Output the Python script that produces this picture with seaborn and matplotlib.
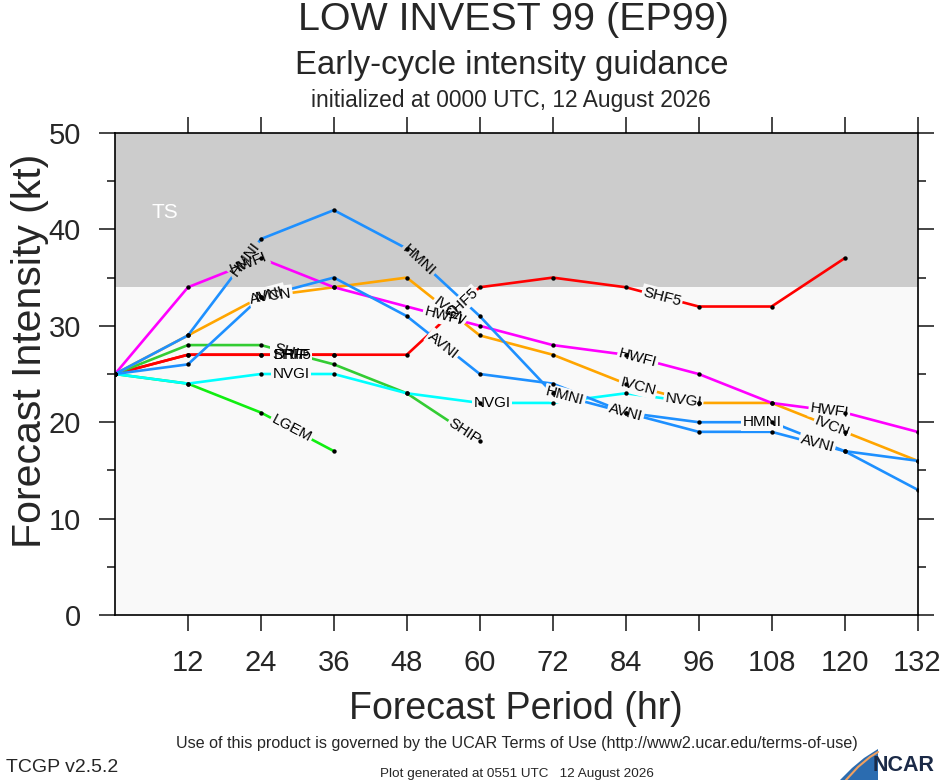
import numpy as np
import pandas as pd
import matplotlib
matplotlib.use('Agg')
import matplotlib.pyplot as plt
import seaborn as sns
from matplotlib.ticker import MultipleLocator
from matplotlib.patches import Polygon

# forecast hours and model intensities (kt)
HOURS = [0, 12, 24, 36, 48, 60, 72, 84, 96, 108, 120, 132]

DRIF = [25, 27, 27, 27]
SHF5 = [25, 27, 27, 27, 27, 34, 35, 34, 32, 32, 37]
SHIP = [25, 28, 28, 26, 23, 18]
LGEM = [25, 24, 21, 17]
NVGI = [25, 24, 25, 25, 23, 22, 22, 23, 22]
IVCN = [25, 29, 33, 34, 35, 29, 27, 24, 22, 22, 19, 16]
HWFI = [25, 34, 37, 34, 32, 30, 28, 27, 25, 22, 21, 19]
AVNI = [25, 26, 33, 35, 31, 25, 24, 21, 19, 19, 17, 13]
HMNI = [25, 29, 39, 42, 38, 31, 23, 21, 20, 20, 17, 16]

MODELS = {'DRIF': DRIF, 'SHF5': SHF5, 'SHIP': SHIP, 'LGEM': LGEM, 'NVGI': NVGI,
          'IVCN': IVCN, 'HWFI': HWFI, 'AVNI': AVNI, 'HMNI': HMNI}

COLORS = {'DRIF': '#ff0000', 'SHF5': '#ff0000', 'SHIP': '#33cc33', 'LGEM': '#11ee11',
          'NVGI': '#00ffff', 'IVCN': '#ffa500', 'HWFI': '#ff00ff',
          'AVNI': '#1e90ff', 'HMNI': '#1e90ff'}

# where along each line the model name is written (hr)
LABEL_AT = {'DRIF': [29], 'SHF5': [29, 57, 90], 'SHIP': [29, 57.5], 'LGEM': [29],
            'NVGI': [29, 62, 93.5], 'IVCN': [26, 55, 86, 118],
            'HWFI': [22, 54, 86, 117.5], 'AVNI': [25, 54, 84, 115.5],
            'HMNI': [21.5, 50, 74, 106.5]}

TS_LOW = 34

rows = []
for name, vals in MODELS.items():
    for h, v in zip(HOURS, vals):
        rows.append({'model': name, 'hour': h, 'kt': v})
df = pd.DataFrame(rows)

sns.set_style("white")
plt.rcParams['font.family'] = ['Liberation Sans', 'DejaVu Sans']

W, H = 940, 780
fig = plt.figure(figsize=(9.4, 7.8), dpi=100)
ax = fig.add_axes([115 / W, 165 / H, 802.5 / W, 482 / H])
ax.set_xlim(0, 132)
ax.set_ylim(0, 50)
ax.set_facecolor('#f9f9f9')
ax.axhspan(TS_LOW, 50, color='#cccccc', lw=0, zorder=0)
ax.text(8.2, 41.8, 'TS', color='white', fontsize=15, ha='center', va='center')

sns.lineplot(data=df, x='hour', y='kt', hue='model', hue_order=list(MODELS),
             palette=COLORS, estimator=None, sort=False, lw=1.9, legend=False, ax=ax)
sns.scatterplot(data=df, x='hour', y='kt', color='black', s=10, linewidth=0,
                legend=False, ax=ax, zorder=5)

# line labels: first knock a gap in the lines, then write the names
spots = []
for name, vals in MODELS.items():
    hrs = HOURS[:len(vals)]
    for h in LABEL_AT[name]:
        i = max(j for j in range(len(hrs) - 1) if hrs[j] <= h)
        y = np.interp(h, hrs, vals)
        p0 = ax.transData.transform((hrs[i], vals[i]))
        p1 = ax.transData.transform((hrs[i + 1], vals[i + 1]))
        ang = np.degrees(np.arctan2(p1[1] - p0[1], p1[0] - p0[0]))
        spots.append((name, h, y, ang))

for name, h, y, ang in spots:
    bg = '#cccccc' if y > TS_LOW else '#f9f9f9'
    ax.text(h, y, name, color=bg, fontsize=11, rotation=ang, rotation_mode='anchor',
            ha='center', va='center', zorder=3,
            bbox=dict(boxstyle='square,pad=0.1', fc=bg, ec='none'))
for name, h, y, ang in spots:
    ax.text(h, y, name, color='black', fontsize=11, rotation=ang, rotation_mode='anchor',
            ha='center', va='center', zorder=4)

ax.set_xticks(range(12, 133, 12))
ax.set_xticklabels([str(t) for t in range(12, 133, 12)])
ax.set_yticks(range(0, 51, 10))
ax.yaxis.set_minor_locator(MultipleLocator(5))
ax.tick_params(axis='x', which='major', direction='out', length=11.5, width=1.2,
               bottom=True, top=True, labeltop=False, labelsize=21, pad=13)
ax.tick_params(axis='y', which='major', direction='out', length=11.5, width=1.2,
               left=True, right=True, labelright=False, labelsize=21, pad=13)
ax.tick_params(axis='y', which='minor', direction='out', length=5.8, width=1.2,
               left=True, right=True)
for sp in ax.spines.values():
    sp.set_visible(True)
    sp.set_color('black')
    sp.set_linewidth(1.2)
ax.set_xlabel('')
ax.set_ylabel('')

fig.text(516 / W, 1 - 719 / H, 'Forecast Period (hr)', fontsize=27, ha='center', va='baseline')
fig.text(30 / W, 1 - 351 / H, 'Forecast Intensity (kt)', fontsize=29.5, rotation=90,
         ha='center', va='center')

fig.text(514 / W, 1 - 30 / H, 'LOW INVEST 99 (EP99)', fontsize=28.4, ha='center', va='baseline')
fig.text(512 / W, 1 - 74 / H, 'Early-cycle intensity guidance', fontsize=23.7,
         ha='center', va='baseline')
fig.text(511 / W, 1 - 107 / H, 'initialized at 0000 UTC, 12 August 2026', fontsize=16.4,
         ha='center', va='baseline')

fig.text(517 / W, 1 - 748 / H, 'Use of this product is governed by the UCAR Terms of Use '
         '(http://www2.ucar.edu/terms-of-use)', fontsize=11.6, ha='center', va='baseline')
fig.text(6 / W, 1 - 772 / H, 'TCGP v2.5.2', fontsize=14, ha='left', va='baseline')
fig.text(517 / W, 1 - 777 / H, 'Plot generated at 0551 UTC   12 August 2026', fontsize=9.7,
         ha='center', va='baseline')

# NCAR mark
swoosh = [(840, 780), (852, 768), (864, 758), (878, 749), (878, 780)]
fig.patches.append(Polygon([(x / W, 1 - y / H) for x, y in swoosh], closed=True,
                           transform=fig.transFigure, fc='#2b6cb0', ec='none'))
arc = [(846, 780), (858, 767), (870, 757), (878, 752)]
fig.lines.append(plt.Line2D([x / W for x, y in arc], [1 - y / H for x, y in arc],
                            transform=fig.transFigure, color='#f0a060', lw=1.5))
fig.text(873 / W, 1 - 771 / H, 'NCAR', fontsize=15.5, fontweight='bold', color='#1b2a47',
         ha='left', va='baseline')

fig.savefig('out.png', dpi=100)
